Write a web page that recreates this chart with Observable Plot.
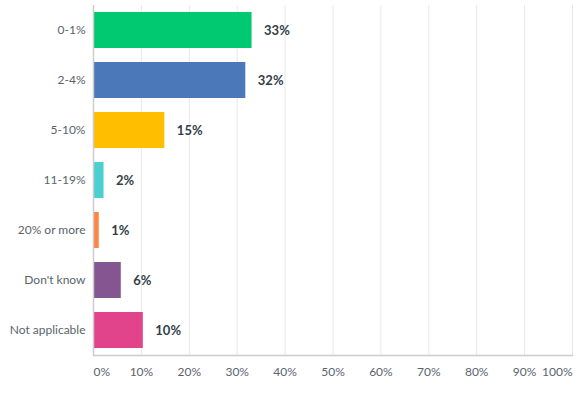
<!DOCTYPE html>
<html><head><meta charset="utf-8">
<script src="https://cdn.jsdelivr.net/npm/d3@7"></script>
<script src="https://cdn.jsdelivr.net/npm/@observablehq/plot@0.6"></script>
<style>body{margin:0;background:#fff;font-family:Lato,sans-serif}</style>
</head><body><div id="chart"></div>
<script>
const categories = ["0-1%","2-4%","5-10%","11-19%","20% or more","Don't know","Not applicable"];
const values = [33.1, 31.8, 14.9, 2.2, 1.2, 5.8, 10.4];
const labels = ["33%","32%","15%","2%","1%","6%","10%"];
const colors = ["#00c971","#4a78b8","#ffbe00","#4bcfd0","#ff8540","#855591","#e2448c"];
const ticks = [0,10,20,30,40,50,60,70,80,90,100];
const tickLabels = ticks.map(t => t + "%");

const data = categories.map((c,i) => ({cat:c, value:values[i], label:labels[i], color:colors[i]}));
const tickData = ticks.map((t,i) => ({t, label: tickLabels[i]}));

const plot = Plot.plot({
  width: 587, height: 396,
  marginLeft: 93, marginRight: 15, marginTop: 5, marginBottom: 41,
  style: {fontFamily: "Lato, sans-serif", background: "#fff"},
  x: {domain: [0,100], axis: null},
  y: {domain: categories, paddingInner: 0.28, paddingOuter: 0.14, label: null},
  marks: [
    Plot.ruleX(ticks.slice(1), {stroke: "#e8e8e8", strokeWidth: 1}),
    Plot.barX(data, {y: "cat", x: "value", fill: "color"}),
    Plot.ruleX([0], {stroke: "#cccccc", strokeWidth: 1.5}),
    Plot.frame({anchor: "bottom", stroke: "#cccccc", strokeWidth: 1.5}),
    Plot.text(data, {y: "cat", x: "value", text: "label", dx: 12, textAnchor: "start", fill: "#333e48", fontWeight: "bold", fontSize: 13}),
    Plot.axisY({tickSize: 0, tickPadding: 8, fontSize: 12, color: "#5a636c", label: null}),
    Plot.text(tickData.filter(d => d.t === 0), {x: "t", text: "label", frameAnchor: "bottom", dy: 20, textAnchor: "start", fill: "#5a636c", fontSize: 12}),
    Plot.text(tickData.filter(d => d.t > 0 && d.t < 100), {x: "t", text: "label", frameAnchor: "bottom", dy: 20, textAnchor: "middle", fill: "#5a636c", fontSize: 12}),
    Plot.text(tickData.filter(d => d.t === 100), {x: "t", text: "label", frameAnchor: "bottom", dy: 20, textAnchor: "end", fill: "#5a636c", fontSize: 12})
  ]
});
document.getElementById("chart").appendChild(plot);
</script></body></html>
